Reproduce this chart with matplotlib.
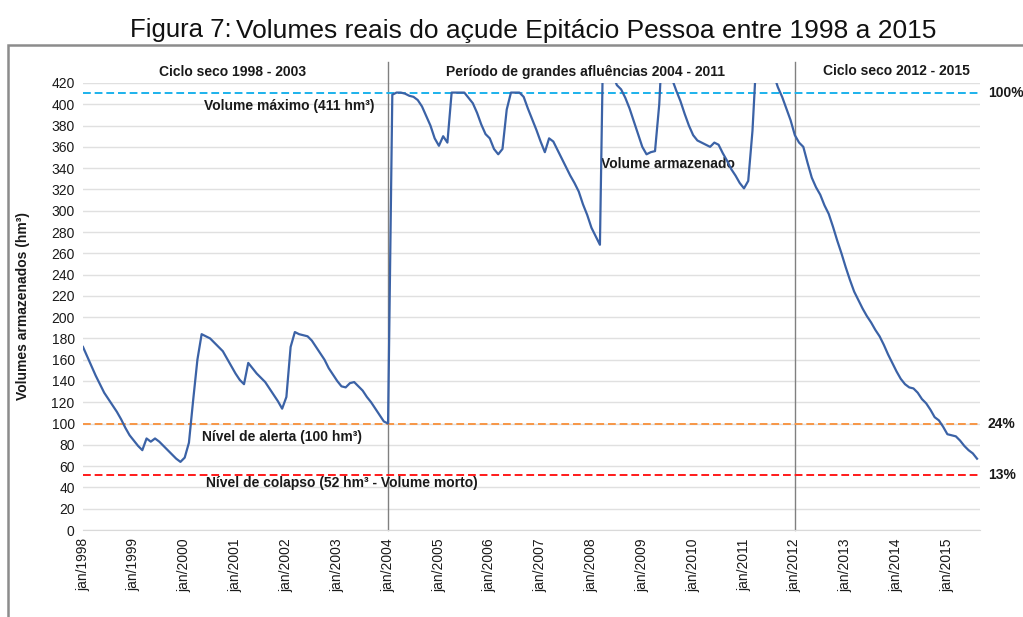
import matplotlib as mpl
import matplotlib.pyplot as plt
from matplotlib.patches import Rectangle

mpl.rcParams['font.family'] = ['Liberation Sans', 'DejaVu Sans']

# monthly stored volume (hm3), jan/1998 onwards
vol_1998_2003 = [172, 163, 154, 145, 137, 129, 123, 117, 111, 104, 96, 89,
                 84, 79, 75, 86, 83, 86, 83, 79, 75, 71, 67, 64,
                 68, 82, 122, 160, 184, 182, 180, 176, 172, 168, 161, 154,
                 147, 141, 137, 157, 152, 147, 143, 139, 133, 127, 121, 114,
                 125, 172, 186, 184, 183, 182, 178, 172, 166, 160, 152, 146,
                 140, 135, 134, 138, 139, 135, 131, 125, 120, 114, 108, 102]
vol_2004_2011 = [100, 409, 411, 411, 410, 408, 407, 404, 398, 389, 380, 368,
                 361, 370, 364, 411, 411, 411, 411, 406, 401, 392, 381, 372,
                 368, 358, 353, 358, 395, 411, 411, 411, 407, 396, 386, 376,
                 365, 355, 368, 365, 357, 349, 341, 333, 326, 318, 306, 296,
                 284, 276, 268, 520, 480, 428, 418, 414, 406, 396, 384, 372,
                 360, 353, 355, 356, 400, 480, 440, 424, 413, 403, 391, 380,
                 371, 366, 364, 362, 360, 364, 362, 354, 347, 339, 333, 326,
                 321, 328, 375, 450, 470, 460, 445, 428, 416, 407, 396, 385]
vol_2012_2015 = [371, 364, 360, 345, 331, 322, 315, 305, 297, 285, 272, 260,
                 247, 235, 224, 216, 208, 201, 195, 188, 182, 174, 165, 157,
                 149, 142, 137, 134, 133, 129, 123, 119, 113, 106, 103, 97,
                 90, 89, 88, 84, 79, 75, 72, 67]
volume = vol_1998_2003 + vol_2004_2011 + vol_2012_2015
months = list(range(len(volume)))

years = list(range(1998, 2016))
tick_labels = ['jan/%d' % y for y in years]

vol_max = 411
vol_alerta = 100
vol_colapso = 52

fig = plt.figure(figsize=(10.23, 6.17), dpi=100)
W, H = 1023.0, 617.0
ax = fig.add_axes([83 / W, 1 - 530 / H, (980 - 83) / W, (530 - 83) / H])

txt = '#1a1a1a'

ax.plot(months, volume, color='#3b62a6', lw=1.6, zorder=4)

ax.axhline(vol_max, color='#1cb2ec', ls=(0, (4, 2)), lw=1.4, zorder=3, clip_on=False)
ax.axhline(vol_alerta, color='#f79646', ls=(0, (4, 2)), lw=1.4, zorder=3)
ax.axhline(vol_colapso, color='#ff1a1a', ls=(0, (4, 2)), lw=1.4, zorder=3)

# period separators, drawn above the plot area
for m in (72, 168):
    ax.plot([m, m], [0, 440], color='#808080', lw=1.0, clip_on=False, zorder=2)

ax.set_xlim(0, 211.7)
ax.set_ylim(0, 420)
ax.set_yticks(range(0, 421, 20))
ax.set_xticks([12 * i for i in range(len(years))])
ax.set_xticklabels(tick_labels, rotation=90, fontsize=10, color=txt)
ax.tick_params(axis='y', labelsize=10, labelcolor=txt, length=0, pad=6)
ax.tick_params(axis='x', length=0, pad=6)
ax.grid(axis='y', color='#e0e0e0', lw=1.0)
ax.set_axisbelow(True)
for s in ('left', 'right', 'top'):
    ax.spines[s].set_visible(False)
ax.spines['bottom'].set_color('#d9d9d9')

ax.set_ylabel('Volumes armazenados (hm³)', fontsize=10, fontweight='bold', color=txt)
ax.yaxis.set_label_coords(-0.059, 0.5)

bold = dict(fontsize=10, fontweight='bold', color=txt)
ax.text(35.3, 430, 'Ciclo seco 1998 - 2003', ha='center', va='center', **bold)
ax.text(118.5, 430, 'Período de grandes afluências 2004 - 2011', ha='center', va='center', **bold)
ax.text(192, 431, 'Ciclo seco 2012 - 2015', ha='center', va='center', **bold)
ax.text(48.6, 398, 'Volume máximo (411 hm³)', ha='center', va='center', **bold)
ax.text(138, 344, 'Volume armazenado', ha='center', va='center', **bold)
ax.text(47, 87, 'Nível de alerta (100 hm³)', ha='center', va='center', **bold)
ax.text(61, 44, 'Nível de colapso (52 hm³ - Volume morto)', ha='center', va='center', **bold)

ax.text(213.5, vol_max, '100%', ha='left', va='center', clip_on=False, **bold)
ax.text(213.5, vol_alerta, '24%', ha='left', va='center', clip_on=False, **bold)
ax.text(213.5, vol_colapso, '13%', ha='left', va='center', clip_on=False, **bold)

# outer frame
fig.patches.append(Rectangle((8 / W, -0.05), 1.1, 1 - 45 / H + 0.05, transform=fig.transFigure,
                             fill=False, edgecolor='#8c8c8c', lw=1.8))

fig.text(232 / W, 1 - 30 / H, 'Figura 7:', ha='right', va='center', fontsize=18.5, color='#111111')
fig.text(236 / W, 1 - 31 / H, 'Volumes reais do açude Epitácio Pessoa entre 1998 a 2015',
         ha='left', va='center', fontsize=19, color='#111111')

fig.savefig('out.png', dpi=100)
